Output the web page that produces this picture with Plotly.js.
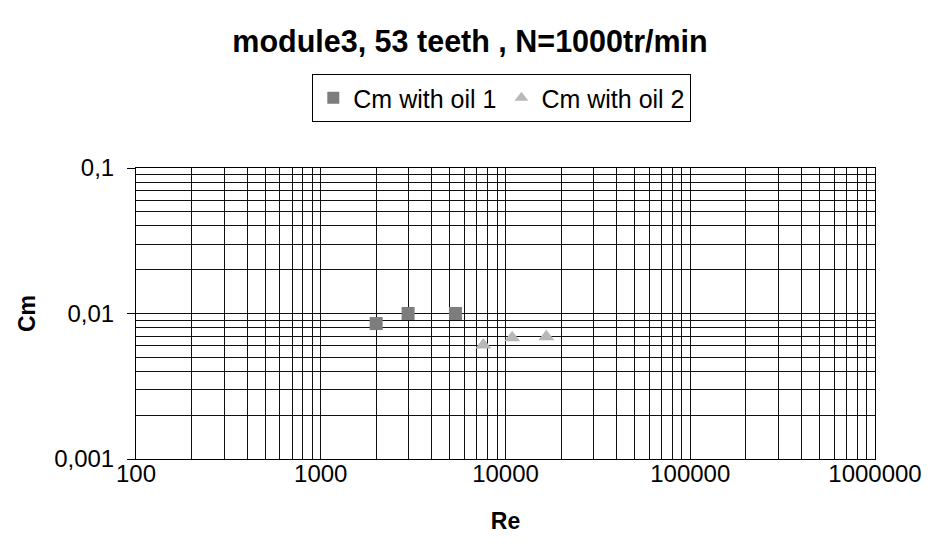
<!DOCTYPE html>
<html>
<head>
<meta charset="utf-8">
<script src="https://cdn.plot.ly/plotly-3.0.1.min.js"></script>
<style>html,body{margin:0;padding:0;background:#fff;}#chart{width:930px;height:556px;}</style>
</head>
<body>
<div id="chart"></div>
<script>
// Data
const reOil1 = [1995, 2970, 5360];
const cmOil1 = [0.00853, 0.0100, 0.0100];
const reOil2 = [7590, 10870, 16630];
const cmOil2 = [0.00607, 0.00681, 0.00693];

const seriesNames = ["Cm with oil 1", "Cm with oil 2"];
const xTickVals = [100, 1000, 10000, 100000, 1000000];
const xTickText = ["100", "1000", "10000", "100000", "1000000"];
const yTickVals = [0.001, 0.01, 0.1];
const yTickText = ["0,001", "0,01", "0,1"];

const traces = [
  {
    x: reOil1, y: cmOil1, name: seriesNames[0], type: "scatter", mode: "markers",
    marker: {symbol: "square", size: 13, color: "#7d7d7d", line: {width: 0}}
  },
  {
    x: reOil2, y: cmOil2, name: seriesNames[1], type: "scatter", mode: "markers",
    marker: {symbol: "triangle-up", size: 14, color: "#b8b8b8", line: {width: 0}}
  }
];

const gridCol = "#111";
const layout = {
  width: 930, height: 556,
  margin: {l: 136, r: 55, t: 168, b: 97},
  paper_bgcolor: "#fff", plot_bgcolor: "#fff",
  font: {family: "Arial, 'Liberation Sans', sans-serif", color: "#000", size: 24},
  title: {
    text: "<b>module3, 53 teeth , N=1000tr/min</b>",
    font: {size: 30.5, color: "#000"},
    x: 470 / 930, xref: "container", xanchor: "center",
    y: 1 - 41 / 556, yref: "container", yanchor: "middle"
  },
  showlegend: true,
  legend: {
    orientation: "h", x: 0.495, xanchor: "center", y: 1.323, yanchor: "top",
    bordercolor: "#000", borderwidth: 1, font: {size: 25, color: "#000"},
    itemsizing: "constant", itemwidth: 30, tracegroupgap: 0
  },
  xaxis: {
    type: "log", range: [2, 6],
    tickvals: xTickVals, ticktext: xTickText, ticks: "",
    ticklabelstandoff: -7,
    showgrid: true, gridcolor: gridCol, gridwidth: 1,
    minor: {dtick: "D1", showgrid: true, gridcolor: gridCol, gridwidth: 1, ticks: ""},
    showline: true, linecolor: "#000", linewidth: 1, mirror: true,
    zeroline: false,
    title: {text: "<b>Re</b>", font: {size: 23}, standoff: 27},
    automargin: false
  },
  yaxis: {
    type: "log", range: [-3, -1],
    tickvals: yTickVals, ticktext: yTickText, ticks: "outside", ticklen: 8, tickcolor: "#000",
    ticklabelstandoff: 8,
    showgrid: true, gridcolor: gridCol, gridwidth: 1,
    minor: {dtick: "D1", showgrid: true, gridcolor: gridCol, gridwidth: 1, ticks: ""},
    showline: true, linecolor: "#000", linewidth: 1, mirror: true,
    zeroline: false,
    title: {text: "<b>Cm</b>", font: {size: 23}, standoff: 12},
    automargin: false
  }
};

Plotly.newPlot("chart", traces, layout, {staticPlot: true, displayModeBar: false});
</script>
</body>
</html>
